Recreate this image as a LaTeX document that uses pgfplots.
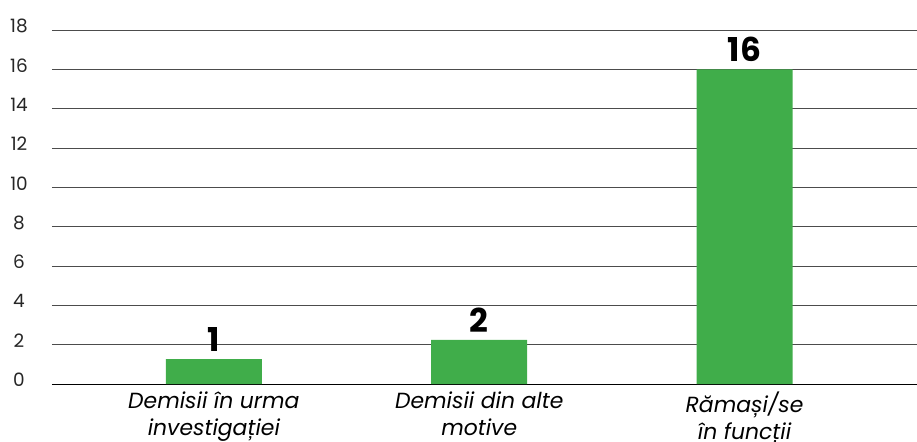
\documentclass[border=0pt]{standalone}
\usepackage{pgfplots}
\pgfplotsset{compat=1.18}
\usepackage{fontspec}
\setmainfont{Poppins}
\definecolor{bargreen}{RGB}{64,173,74}
\begin{document}
\begin{tikzpicture}
\begin{axis}[
  scale only axis, width=865bp, height=354bp,
  xmin=-0.61, xmax=2.65, ymin=0, ymax=18,
  ytick={2,4,...,18}, xtick={0,1,2},
  extra y ticks={0},
  extra y tick style={grid style={line width=0.9bp, black}},
  xticklabels={Demisii în urma\\investigației, Demisii din alte\\motive, Rămași/se\\în funcții},
  axis line style={draw=none},
  tick style={draw=none},
  ymajorgrids, grid style={line width=0.9bp, black!70},
  yticklabel style={font=\fontsize{18.5}{20}\selectfont, anchor=center, xshift=-33bp, yshift=4bp, text=black!85},
  xticklabel style={font=\itshape\fontsize{22}{27}\selectfont, align=center, anchor=north, yshift=-4bp},
  /pgf/number format/assume math mode=true,
]
\addplot[ybar, bar width=96bp, fill=bargreen, draw=none,
  point meta=explicit symbolic, nodes near coords,
  nodes near coords style={font=\bfseries\fontsize{33}{33}\selectfont, anchor=south, yshift=4bp, text=black}]
  coordinates {(0,1.27) [1] (1,2.24) [2] (2,16) [16]};
\end{axis}
\pgfresetboundingbox
\useasboundingbox ([xshift=-52bp,yshift=-58bp]current axis.south west) rectangle ([yshift=30bp]current axis.north east);
\end{tikzpicture}
\end{document}
